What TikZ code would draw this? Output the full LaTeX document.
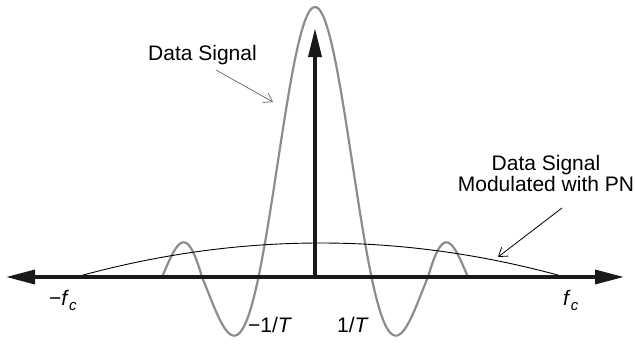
\documentclass[tikz,border=0pt]{standalone}
\usepackage{fontspec}
\setmainfont{Liberation Sans}
\usetikzlibrary{arrows.meta}
\begin{document}
\begin{tikzpicture}[x=1pt,y=-1pt,
  axisline/.style={line width=3.5pt, draw=black!90},
  sig/.style={line width=2.2pt, draw=black!45, line join=round},
  env/.style={line width=0.9pt, draw=black},
  lbl/.style={inner sep=0pt, font=\fontsize{21}{25}\selectfont},
  ptr/.style={line width=0.8pt, -{Straight Barb[length=8pt,width=11pt]}},
  bigtip/.style={Triangle[length=29pt,width=14pt]}]
\useasboundingbox (0,0) rectangle (635,343);
\coordinate (L) at (6,277);
\coordinate (R) at (624,277);
\coordinate (O) at (315,277);
\coordinate (Top) at (315,28);
% sinc-like data signal
\draw[sig] plot[domain=-3:-2, samples=40] ({315-113+40*(\x+2)}, {277-270*sin(180*\x)/(pi*\x)})
  -- plot[domain=-2:2, samples=200] ({315+56.5*\x}, {277-270*sin(180*\x)/(pi*\x)})
  -- plot[domain=2:3, samples=40] ({315+113+40*(\x-2)}, {277-270*sin(180*\x)/(pi*\x)});
% spread envelope
\draw[env] plot[domain=76:565, samples=100] (\x, {277-34*(1-((\x-320.5)/244.5)^2)});
% axis
\draw[axisline, {Triangle[length=29pt,width=14pt]}-{Triangle[length=29pt,width=14pt]}] (L) -- (R);
\draw[axisline, -{Triangle[length=29pt,width=13pt]}] (O) -- (Top);
% labels
\node[lbl, anchor=base west] (ds) at (148,60) {Data Signal};
\node[lbl, anchor=base] (dm1) at (546,170) {Data Signal};
\node[lbl, anchor=base] (dm2) at (546,191) {Modulated with PN};
\node[lbl, anchor=base west] (mfc) at (49,305) {−\textit{f}\raisebox{-0.25em}{\fontsize{15}{15}\selectfont\textit{c}}};
\node[lbl, anchor=base west] (fc) at (563,305) {\textit{f}\raisebox{-0.25em}{\fontsize{15}{15}\selectfont\textit{c}}};
\node[lbl, anchor=base west] (mT) at (248,332) {−1/\textit{T}};
\node[lbl, anchor=base west] (pT) at (337,332) {1/\textit{T}};
% pointers
\coordinate (p1s) at (216,70);
\coordinate (p1e) at (273,102);
\coordinate (p2s) at (562,208);
\coordinate (p2e) at (498,257);
\draw[ptr, draw=black!55] (p1s) -- (p1e);
\draw[ptr, draw=black] (p2s) -- (p2e);
\end{tikzpicture}
\end{document}
